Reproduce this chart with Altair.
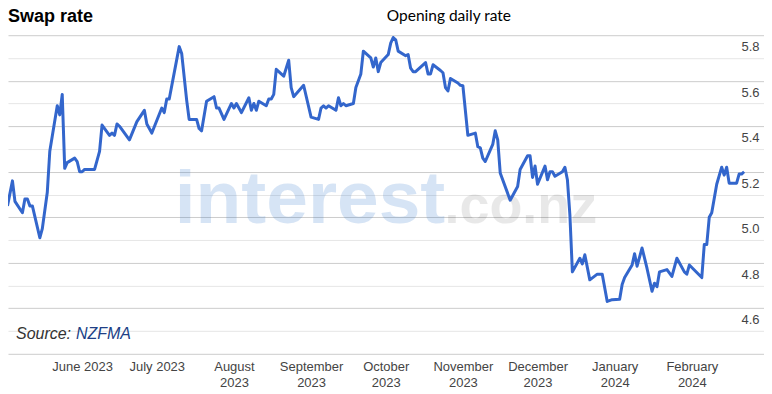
import altair as alt
import pandas as pd

dates = ["2023-05-02","2023-05-04","2023-05-05","2023-05-08","2023-05-09","2023-05-10","2023-05-11","2023-05-12","2023-05-15","2023-05-16",
"2023-05-18","2023-05-19","2023-05-22","2023-05-23","2023-05-24","2023-05-25","2023-05-26","2023-05-29","2023-05-30","2023-05-31",
"2023-06-01","2023-06-02","2023-06-06","2023-06-08","2023-06-09","2023-06-12","2023-06-13","2023-06-14","2023-06-15","2023-06-16",
"2023-06-20","2023-06-23","2023-06-26","2023-06-27","2023-06-29","2023-07-03","2023-07-04","2023-07-05","2023-07-06","2023-07-10",
"2023-07-11","2023-07-13","2023-07-14","2023-07-17","2023-07-18","2023-07-19","2023-07-21","2023-07-24","2023-07-25","2023-07-26",
"2023-07-28","2023-07-31","2023-08-01","2023-08-02","2023-08-04","2023-08-07","2023-08-08","2023-08-09","2023-08-10","2023-08-11",
"2023-08-14","2023-08-15","2023-08-16","2023-08-17","2023-08-18","2023-08-21","2023-08-23","2023-08-24","2023-08-25","2023-08-29",
"2023-09-01","2023-09-04","2023-09-05","2023-09-06","2023-09-07","2023-09-08","2023-09-11","2023-09-12","2023-09-13","2023-09-14",
"2023-09-15","2023-09-18","2023-09-19","2023-09-21","2023-09-22","2023-09-25","2023-09-26","2023-09-27","2023-09-28","2023-09-29",
"2023-10-02","2023-10-03","2023-10-04","2023-10-05","2023-10-06","2023-10-09","2023-10-10","2023-10-11","2023-10-12","2023-10-13",
"2023-10-17","2023-10-18","2023-10-19","2023-10-20","2023-10-23","2023-10-24","2023-10-25","2023-10-26","2023-10-27","2023-10-30",
"2023-10-31","2023-11-01","2023-11-03","2023-11-06","2023-11-07","2023-11-08","2023-11-09","2023-11-10","2023-11-13","2023-11-14",
"2023-11-15","2023-11-16","2023-11-20","2023-11-23","2023-11-24","2023-11-27","2023-11-28","2023-11-29","2023-11-30","2023-12-01",
"2023-12-04","2023-12-05","2023-12-06","2023-12-07","2023-12-08","2023-12-11","2023-12-12","2023-12-13","2023-12-14","2023-12-15",
"2023-12-18","2023-12-19","2023-12-20","2023-12-22","2023-12-25","2023-12-27","2023-12-29","2023-12-31","2024-01-03","2024-01-04",
"2024-01-05","2024-01-08","2024-01-09","2024-01-10","2024-01-12","2024-01-14","2024-01-16","2024-01-17","2024-01-18","2024-01-19",
"2024-01-22","2024-01-24","2024-01-26","2024-01-29","2024-01-30","2024-01-31","2024-02-05","2024-02-06","2024-02-07","2024-02-08",
"2024-02-09","2024-02-11","2024-02-13","2024-02-14","2024-02-15","2024-02-16","2024-02-19","2024-02-20","2024-02-21","2024-02-22"]

rates = [5.05,5.16,5.07,5.02,5.08,5.08,5.05,5.05,4.91,4.95,
5.11,5.29,5.49,5.45,5.54,5.215,5.24,5.26,5.245,5.20,
5.20,5.21,5.21,5.29,5.405,5.36,5.37,5.36,5.41,5.40,
5.34,5.42,5.47,5.41,5.37,5.48,5.46,5.52,5.52,5.75,
5.72,5.515,5.43,5.43,5.39,5.38,5.51,5.53,5.48,5.48,
5.43,5.50,5.48,5.50,5.46,5.525,5.47,5.50,5.47,5.51,
5.49,5.52,5.52,5.54,5.65,5.62,5.69,5.57,5.53,5.58,
5.44,5.43,5.48,5.49,5.48,5.49,5.47,5.525,5.49,5.50,
5.49,5.50,5.57,5.63,5.73,5.70,5.66,5.70,5.64,5.68,
5.715,5.765,5.79,5.78,5.73,5.71,5.715,5.655,5.64,5.64,
5.68,5.63,5.63,5.67,5.645,5.635,5.57,5.555,5.61,5.59,
5.58,5.578,5.36,5.37,5.31,5.305,5.26,5.245,5.32,5.38,
5.34,5.195,5.075,5.135,5.21,5.27,5.27,5.175,5.225,5.145,
5.225,5.165,5.20,5.20,5.18,5.20,5.22,5.165,5.01,4.76,
4.82,4.795,4.835,4.725,4.75,4.75,4.63,4.638,4.64,4.705,
4.735,4.79,4.84,4.785,4.865,4.775,4.675,4.71,4.695,4.76,
4.77,4.74,4.82,4.76,4.75,4.79,4.735,4.88,4.88,5.00,
5.02,5.145,5.22,5.185,5.22,5.15,5.15,5.19,5.19,5.20]

assert len(dates) == len(rates)

month_ticks = [(2023, 6), (2023, 7), (2023, 8), (2023, 9), (2023, 10), (2023, 11), (2023, 12), (2024, 1), (2024, 2)]
y_ticks = [4.4, 4.5, 4.6, 4.7, 4.8, 4.9, 5.0, 5.1, 5.2, 5.3, 5.4, 5.5, 5.6, 5.7, 5.8]

title_text = "Swap rate"
subtitle_text = "Opening daily rate"
source_label = "Source:"
source_name = "NZFMA"
wm_main = "interest"
wm_tail = ".co.nz"

df = pd.DataFrame({"date": dates, "rate": rates})

W, H = 757, 319
FONT = "Liberation Sans, Arial, sans-serif"

x_enc = alt.X(
    "date:T",
    scale=alt.Scale(
        type="utc",
        domain=[alt.DateTime(year=2023, month=5, date=2, hours=5, utc=True),
                alt.DateTime(year=2024, month=3, date=1, utc=True)],
    ),
    axis=alt.Axis(
        values=[alt.DateTime(year=y, month=m, date=1, utc=True) for (y, m) in month_ticks],
        labelExpr="(utcmonth(datum.value) == 5 || utcmonth(datum.value) == 6) ? utcFormat(datum.value, '%B %Y') : [utcFormat(datum.value, '%B'), utcFormat(datum.value, '%Y')]",
        grid=False, ticks=False, domain=False, title=None,
        labelFont=FONT, labelFontSize=13, labelColor="#444444",
        labelBaseline="top", labelPadding=6.5, labelLineHeight=16.7,
        labelFlush=False, labelOverlap=False, labelAngle=0,
    ),
)

y_enc = alt.Y(
    "rate:Q",
    scale=alt.Scale(domain=[4.4, 5.8], nice=False, zero=False),
    axis=alt.Axis(
        orient="right", values=y_ticks, title=None,
        ticks=False, domain=False,
        labelExpr="(round(datum.value*10) % 2 == 0 && datum.value > 4.5) ? format(datum.value, '.1f') : ''",
        labelAlign="right", labelPadding=-5, labelBaseline="middle", labelOffset=11.5,
        labelFont=FONT, labelFontSize=13, labelColor="#444444", labelOverlap=False,
        gridColor={"condition": {"test": "round(datum.value*10) % 2 == 0", "value": "#cccccc"}, "value": "#e6e6e6"},
        gridWidth=1,
    ),
)

one = pd.DataFrame({"k": [0]})

def label(text, x, y, **kw):
    return alt.Chart(one).mark_text(text=text, **kw).encode(x=alt.value(x), y=alt.value(y))

wm1 = label(wm_main, 167, 188, align="left", baseline="alphabetic",
            font="Liberation Sans", fontWeight="bold",
            fontSize=75, color="#2e75cc", opacity=0.19)
wm2 = label(wm_tail, 437, 188, align="left", baseline="alphabetic",
            font="Liberation Sans", fontWeight="bold",
            fontSize=54, color="#000000", opacity=0.085)

line = alt.Chart(df).mark_line(color="#3366cc", strokeWidth=3, strokeJoin="round").encode(x=x_enc, y=y_enc)

t1 = label(title_text, 0, -13.5, align="left", baseline="alphabetic", font=FONT,
           fontWeight="bold", fontSize=18, color="#000000")
t2 = label(subtitle_text, 441.5, -14.5, align="center", baseline="alphabetic",
           font="Lato, Open Sans, sans-serif", fontSize=15.5, color="#000000")
s1 = label(source_label, 8, 304.3, align="left", baseline="alphabetic", font=FONT,
           fontStyle="italic", fontSize=16, color="#333333")
s2 = label(source_name, 68, 304.3, align="left", baseline="alphabetic", font=FONT,
           fontStyle="italic", fontSize=16, color="#203f86")

chart = alt.layer(wm1, wm2, line, t1, t2, s1, s2).properties(
    width=W, height=H,
    autosize=alt.AutoSizeParams(type="none"),
    padding={"left": 0, "top": 27, "right": 0, "bottom": 40},
).configure_view(stroke=None)

chart.save("out.html", embed_options={"renderer": "svg", "actions": False})
